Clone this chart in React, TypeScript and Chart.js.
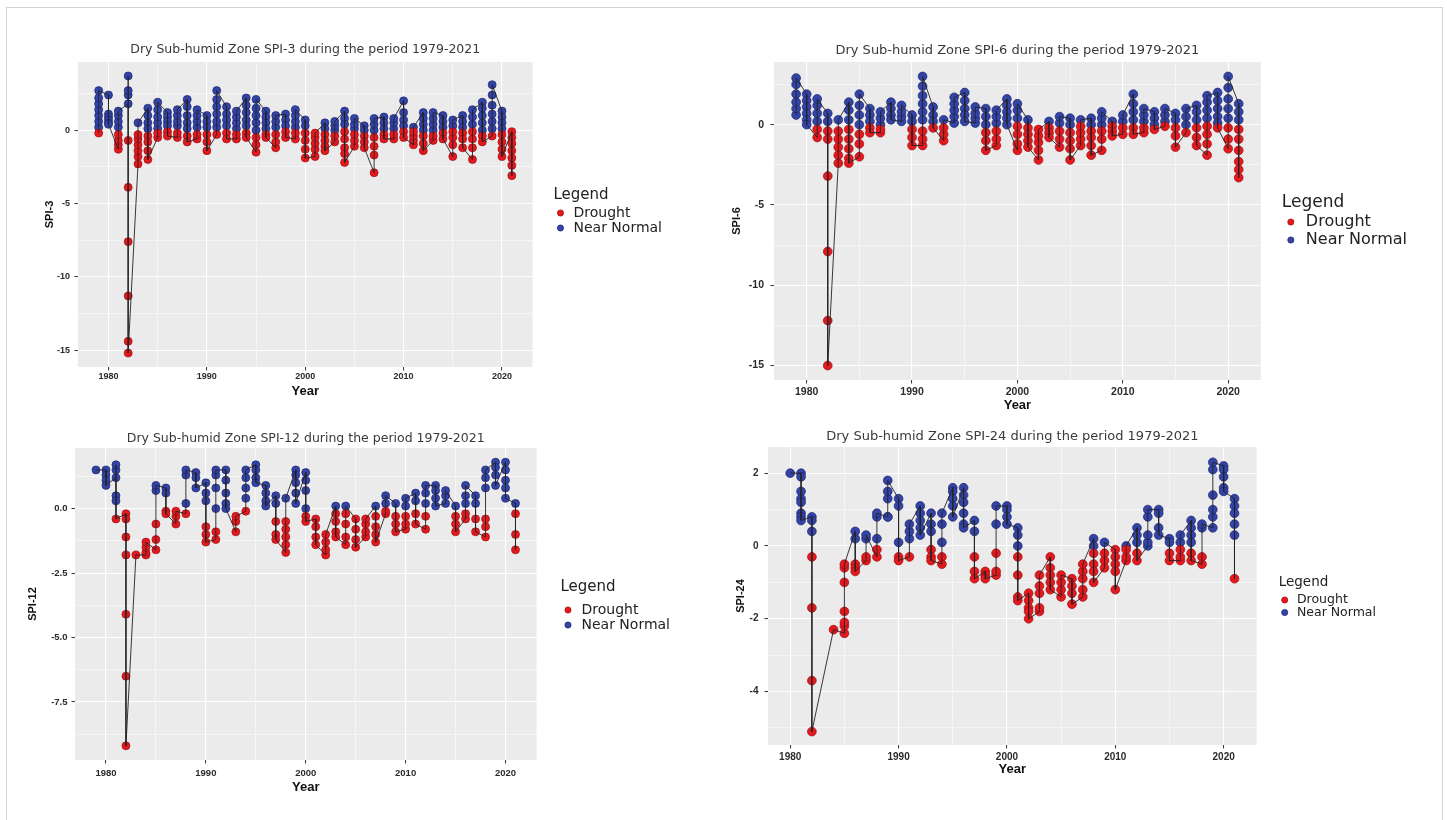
import React, { useEffect, useRef } from "react";
import { Chart, registerables } from "chart.js";

Chart.register(...registerables);

// ---------- data ----------
const YEARS = [
  1979, 1980, 1981, 1982, 1983, 1984, 1985, 1986, 1987, 1988, 1989, 1990, 1991, 1992, 1993,
  1994, 1995, 1996, 1997, 1998, 1999, 2000, 2001, 2002, 2003, 2004, 2005, 2006, 2007, 2008,
  2009, 2010, 2011, 2012, 2013, 2014, 2015, 2016, 2017, 2018, 2019, 2020, 2021,
];

const X_MAJOR = [1980, 1990, 2000, 2010, 2020];
const X_MINOR = [1985, 1995, 2005, 2015];
const X_LABELS = ["1980", "1990", "2000", "2010", "2020"];

const LEGEND_TITLE = "Legend";
const SERIES_NAMES = ["Drought", "Near Normal"];
const X_TITLE = "Year";

const SPI3_Y_MAJOR = [-15, -10, -5, 0];
const SPI3_Y_MINOR = [-12.5, -7.5, -2.5, 2.5];
const SPI3_Y_LABELS = ["-15", "-10", "-5", "0"];
const SPI6_Y_MAJOR = [-15, -10, -5, 0];
const SPI6_Y_MINOR = [-12.5, -7.5, -2.5, 2.5];
const SPI6_Y_LABELS = ["-15", "-10", "-5", "0"];
const SPI12_Y_MAJOR = [-7.5, -5, -2.5, 0];
const SPI12_Y_MINOR = [-8.75, -6.25, -3.75, -1.25, 1.25];
const SPI12_Y_LABELS = ["-7.5", "-5.0", "-2.5", "0.0"];
const SPI24_Y_MAJOR = [-4, -2, 0, 2];
const SPI24_Y_MINOR = [-5, -3, -1, 1];
const SPI24_Y_LABELS = ["-4", "-2", "0", "2"];

// monthly SPI values per year (in plotting order), one list per year of YEARS
const SPI3_VALUES = [
  [-0.2, 0.2, 0.6, 1.0, 1.4, 1.8, 2.2, 2.7],
  [2.4, 1.1, 0.9, 0.7, 0.5, 0.4],
  [-1.3, -1.0, -0.7, -0.3, 0.2, 0.6, 1.0, 1.3],
  [1.8, 2.4, 2.7, 3.7, -0.7, -3.9, -7.6, -11.3, -14.4, -15.2],
  [-2.3, -1.8, -1.4, -1.0, -0.6, -0.3, 0.5],
  [1.5, 1.0, 0.5, 0.1, -0.4, -0.8, -1.4, -2.0],
  [-0.5, -0.2, 0.1, 0.5, 0.9, 1.4, 1.9],
  [1.2, 0.9, 0.6, 0.3, -0.1, -0.4],
  [-0.5, -0.2, 0.3, 0.6, 1.0, 1.4],
  [2.1, 1.6, 1.0, 0.5, 0.1, -0.4, -0.8],
  [-0.6, -0.3, 0.2, 0.6, 1.0, 1.4],
  [1.0, 0.6, 0.2, -0.3, -0.8, -1.4],
  [-0.3, 0.2, 0.6, 1.1, 1.6, 2.1, 2.7],
  [1.6, 1.1, 0.7, 0.3, -0.2, -0.6],
  [-0.6, -0.3, 0.1, 0.5, 0.9, 1.3],
  [2.2, 1.7, 1.2, 0.7, 0.3, -0.2, -0.5],
  [-1.5, -1.0, -0.5, 0.0, 0.5, 1.0, 1.5, 2.1],
  [1.3, 0.9, 0.5, 0.1, -0.3, -0.5],
  [-1.2, -0.8, -0.3, 0.2, 0.6, 1.0],
  [1.1, 0.7, 0.3, -0.1, -0.5],
  [-0.6, -0.2, 0.2, 0.6, 1.0, 1.4],
  [0.7, 0.3, -0.2, -0.7, -1.3, -1.9],
  [-1.8, -1.3, -0.9, -0.5, -0.2],
  [0.5, 0.1, -0.3, -0.7, -1.1, -1.4],
  [-0.8, -0.4, 0.0, 0.3, 0.6],
  [1.3, 0.8, 0.4, -0.1, -0.6, -1.2, -1.6, -2.2],
  [-1.1, -0.7, -0.3, 0.1, 0.4, 0.8],
  [0.3, 0.0, -0.4, -0.8, -1.2],
  [-2.9, -1.7, -1.1, -0.5, 0.0, 0.4, 0.8],
  [0.9, 0.5, 0.1, -0.3, -0.6],
  [-0.6, -0.3, 0.1, 0.5, 0.8],
  [2.0, 1.2, 0.7, 0.3, -0.1, -0.5],
  [-1.0, -0.7, -0.4, -0.1, 0.2],
  [1.2, 0.8, 0.4, 0.0, -0.4, -0.9, -1.4],
  [-0.7, -0.4, 0.0, 0.4, 0.8, 1.2],
  [1.0, 0.6, 0.2, -0.2, -0.6],
  [-1.8, -1.0, -0.5, -0.1, 0.3, 0.7],
  [1.0, 0.6, 0.2, -0.2, -0.6, -1.2],
  [-2.0, -1.2, -0.6, -0.1, 0.4, 0.9, 1.4],
  [1.9, 1.5, 1.0, 0.5, 0.0, -0.4, -0.8],
  [-0.4, 0.1, 0.6, 1.1, 1.7, 2.4, 3.1],
  [1.3, 0.9, 0.5, 0.1, -0.3, -0.8, -1.3, -1.8],
  [-0.1, -0.5, -0.9, -1.4, -1.9, -2.4, -3.1],
];

const SPI6_VALUES = [
  [0.6, 1.0, 1.4, 1.9, 2.5, 2.9],
  [1.9, 1.5, 1.1, 0.7, 0.3, 0.0],
  [-0.8, -0.3, 0.2, 0.7, 1.2, 1.6],
  [0.7, 0.2, -0.4, -0.9, -3.2, -7.9, -12.2, -15.0],
  [-2.4, -1.9, -1.4, -0.9, -0.4, 0.3],
  [1.4, 0.9, 0.3, -0.3, -0.9, -1.5, -2.1, -2.4],
  [-2.0, -1.2, -0.6, 0.0, 0.6, 1.2, 1.9],
  [1.0, 0.6, 0.2, -0.2, -0.5],
  [-0.5, -0.3, 0.0, 0.4, 0.8],
  [1.4, 1.0, 0.6, 0.3],
  [0.2, 0.5, 0.8, 1.2],
  [0.6, 0.2, -0.3, -0.8, -1.3],
  [-1.3, -0.9, -0.4, 0.3, 0.8, 1.3, 1.8, 2.4, 3.0],
  [1.1, 0.6, 0.2, -0.2],
  [-1.0, -0.6, -0.2, 0.3],
  [0.1, 0.5, 0.9, 1.3, 1.7],
  [2.0, 1.5, 1.0, 0.6, 0.2],
  [0.1, 0.4, 0.7, 1.1],
  [1.0, 0.5, 0.0, -0.5, -1.0, -1.6],
  [-1.3, -0.9, -0.4, 0.1, 0.5, 0.9],
  [1.6, 1.2, 0.8, 0.4, 0.0],
  [-1.6, -1.2, -0.6, -0.1, 0.4, 0.9, 1.3],
  [0.3, -0.2, -0.6, -1.0, -1.4],
  [-2.2, -1.6, -1.1, -0.7, -0.3],
  [0.2, -0.2, -0.5, -0.8],
  [-1.4, -0.9, -0.4, 0.1, 0.5],
  [0.4, 0.0, -0.5, -1.0, -1.5, -2.2],
  [-1.3, -0.9, -0.5, -0.1, 0.3],
  [0.4, 0.0, -0.4, -0.8, -1.3, -1.9],
  [-1.6, -0.9, -0.4, 0.0, 0.4, 0.8],
  [0.2, -0.1, -0.4, -0.7],
  [-0.6, -0.2, 0.2, 0.6],
  [1.9, 1.3, 0.8, 0.3, -0.2, -0.6],
  [-0.5, -0.2, 0.2, 0.6, 1.0],
  [0.8, 0.4, 0.0, -0.3],
  [-0.1, 0.2, 0.6, 1.0],
  [0.7, 0.3, -0.2, -0.7, -1.4],
  [-0.5, 0.0, 0.5, 1.0],
  [1.2, 0.8, 0.3, -0.2, -0.8, -1.3],
  [-1.9, -1.2, -0.6, -0.1, 0.4, 0.9, 1.4, 1.8],
  [2.0, 1.5, 1.0, 0.5, 0.1, -0.2],
  [-1.5, -0.9, -0.2, 0.4, 1.0, 1.6, 2.3, 3.0],
  [1.3, 0.8, 0.3, -0.3, -0.9, -1.6, -2.3, -2.8, -3.3],
];

const SPI12_VALUES = [
  [1.5],
  [1.5, 1.3, 1.1, 0.9],
  [1.2, 1.5, 1.7, 0.5, 0.3, -0.4],
  [-0.2, -0.4, -1.1, -1.8, -4.1, -6.5, -9.2],
  [-1.8],
  [-1.8, -1.7, -1.5, -1.3],
  [-1.6, -1.2, -0.6, 0.7, 0.9],
  [0.8, 0.6, -0.1, -0.2],
  [-0.6, -0.3, -0.1],
  [-0.2, 0.2, 1.3, 1.5],
  [1.4, 1.2, 0.8],
  [1.0, 0.6, 0.3, -0.7, -1.0, -1.3],
  [-1.2, -0.9, 0.0, 0.8, 1.3, 1.5],
  [1.5, 1.1, 0.6, 0.2, 0.0],
  [-0.9, -0.5, -0.3],
  [-0.1, 0.4, 0.8, 1.2, 1.5],
  [1.7, 1.5, 1.2, 1.0],
  [0.9, 0.6, 0.3, 0.1],
  [0.5, 0.2, -0.5, -1.0, -1.2],
  [-1.7, -1.4, -1.1, -0.8, -0.5, 0.4],
  [1.5, 1.3, 1.0, 0.6, 0.2],
  [1.4, 1.1, 0.7, 0.0, -0.3, -0.5],
  [-0.4, -0.7, -1.1, -1.4],
  [-1.8, -1.6, -1.3, -1.0],
  [0.1, -0.2, -0.5, -0.9, -1.1],
  [-1.4, -1.1, -0.6, -0.2, 0.1],
  [-0.4, -0.8, -1.2, -1.5],
  [-1.1, -0.9, -0.6, -0.4],
  [0.1, -0.3, -0.7, -1.0, -1.3],
  [-0.2, -0.1, 0.2, 0.5],
  [0.2, -0.3, -0.6, -0.9],
  [-0.8, -0.6, -0.3, 0.1, 0.4],
  [0.6, 0.3, -0.2, -0.6],
  [-0.8, -0.3, 0.2, 0.6, 0.9],
  [0.9, 0.7, 0.4, 0.1],
  [0.2, 0.5, 0.7],
  [0.1, -0.3, -0.6, -0.9],
  [-0.4, -0.2, 0.2, 0.5, 0.9],
  [0.5, 0.2, -0.4, -0.9],
  [-1.1, -0.7, -0.4, 0.8, 1.2, 1.5],
  [1.8, 1.6, 1.3, 0.9],
  [1.8, 1.5, 1.1, 0.8, 0.4],
  [0.2, -0.2, -1.0, -1.6],
];

const SPI24_VALUES = [
  [],
  [2.0],
  [2.0, 1.9, 1.5, 1.3, 1.2, 0.9, 0.8, 0.7],
  [0.8, 0.7, 0.4, -0.3, -1.7, -3.7, -5.1],
  [],
  [-2.3],
  [-2.4, -2.2, -2.1, -1.8, -1.0, -0.6, -0.5],
  [0.4, 0.2, -0.5, -0.6, -0.7],
  [-0.4, -0.3, 0.2, 0.3],
  [-0.3, -0.1, 0.2, 0.8, 0.9],
  [0.8, 0.8, 1.3, 1.5, 1.8],
  [1.3, 1.1, 0.1, -0.3, -0.4],
  [-0.3, 0.2, 0.4, 0.6],
  [1.1, 0.9, 0.7, 0.5, 0.3],
  [0.9, 0.6, 0.4, -0.1, -0.3, -0.4],
  [-0.5, -0.3, 0.1, 0.6, 0.9],
  [1.6, 1.5, 1.3, 1.1, 0.8],
  [1.6, 1.4, 1.2, 0.9, 0.6, 0.5],
  [0.7, 0.4, -0.3, -0.7, -0.9],
  [-0.7, -0.8, -0.9],
  [-0.8, -0.7, -0.2, 0.6, 1.1],
  [1.1, 1.0, 0.8, 0.6],
  [0.5, 0.3, 0.0, -0.3, -0.8, -1.4, -1.5],
  [-1.3, -1.5, -1.7, -1.8, -2.0],
  [-1.8, -1.7, -1.3, -1.1, -0.8],
  [-0.3, -0.6, -0.8, -1.0, -1.2],
  [-1.4, -1.2, -1.0, -0.8],
  [-0.9, -1.1, -1.3, -1.6],
  [-1.4, -1.2, -0.9, -0.7, -0.5],
  [0.2, 0.0, -0.2, -0.5, -0.7, -1.0],
  [-0.6, -0.4, -0.2, 0.1],
  [-0.1, -0.3, -0.5, -0.7, -1.2],
  [-0.4, -0.3, -0.1, 0.0],
  [0.5, 0.3, 0.1, -0.2, -0.4],
  [0.0, 0.1, 0.3, 0.8, 1.0],
  [1.0, 0.9, 0.5, 0.3],
  [0.2, 0.1, -0.2, -0.4],
  [-0.4, -0.3, -0.1, 0.1, 0.3],
  [0.7, 0.5, 0.3, 0.1, -0.2, -0.4],
  [-0.5, -0.3, 0.5, 0.6],
  [0.5, 0.8, 1.0, 1.4, 2.1, 2.3],
  [2.2, 2.1, 1.9, 1.6, 1.5],
  [1.3, 1.1, 0.9, 0.6, 0.3, -0.9],
];

// ---------- styles ----------
const SANS = "'Liberation Sans', Arial, sans-serif";
const DEJAVU = "'DejaVu Sans', sans-serif";
const RED = "#E3191E";
const RED_EDGE = "#9E0F12";
const BLUE = "#3344A6";
const BLUE_EDGE = "#1B2470";
const LINE_COLOR = "rgba(35,35,35,0.9)";
const PANEL_BG = "#EBEBEB";
const TICK_LEN = 3.5;
const Y_TITLE_SIZE = 11;
const X_TITLE_SIZE = 13;

type PanelCfg = {
  title: string;
  yTitle: string;
  values: number[][];
  yMajor: number[];
  yMinor: number[];
  yLabels: string[];
  L: number; R: number; T: number; B: number;
  xMin: number; xMax: number; yMin: number; yMax: number;
  titleY: number; titleSize: number;
  yTitleX: number; xTickY: number; xTitleY: number;
  tickSize: number; yTickPad: number;
  legendX: number; legendTitleY: number; legendItemY: number;
  legendSize: number; legendPad: number; legendBox: number;
  pointR: number;
};

const PANELS: PanelCfg[] = [
  {
    title: "Dry Sub-humid Zone SPI-3 during the period 1979-2021", yTitle: "SPI-3",
    values: SPI3_VALUES, yMajor: SPI3_Y_MAJOR, yMinor: SPI3_Y_MINOR, yLabels: SPI3_Y_LABELS,
    L: 78, R: 532, T: 62, B: 367, xMin: 1976.9, xMax: 2023.1, yMin: -16.15, yMax: 4.65,
    titleY: 50, titleSize: 12.5, yTitleX: 50, xTickY: 377, xTitleY: 391,
    tickSize: 9, yTickPad: 4.5,
    legendX: 553, legendTitleY: 195, legendItemY: 213, legendSize: 14, legendPad: 1, legendBox: 12,
    pointR: 4,
  },
  {
    title: "Dry Sub-humid Zone SPI-6 during the period 1979-2021", yTitle: "SPI-6",
    values: SPI6_VALUES, yMajor: SPI6_Y_MAJOR, yMinor: SPI6_Y_MINOR, yLabels: SPI6_Y_LABELS,
    L: 774, R: 1261, T: 62, B: 380, xMin: 1976.9, xMax: 2023.1, yMin: -15.9, yMax: 3.9,
    titleY: 51, titleSize: 13, yTitleX: 737, xTickY: 392, xTitleY: 405,
    tickSize: 10.5, yTickPad: 6.5,
    legendX: 1282, legendTitleY: 203, legendItemY: 222, legendSize: 16, legendPad: 2, legendBox: 14,
    pointR: 4.4,
  },
  {
    title: "Dry Sub-humid Zone SPI-12 during the period 1979-2021", yTitle: "SPI-12",
    values: SPI12_VALUES, yMajor: SPI12_Y_MAJOR, yMinor: SPI12_Y_MINOR, yLabels: SPI12_Y_LABELS,
    L: 75, R: 536, T: 448, B: 760, xMin: 1976.9, xMax: 2023.1, yMin: -9.75, yMax: 2.35,
    titleY: 439, titleSize: 12.5, yTitleX: 33, xTickY: 773, xTitleY: 787,
    tickSize: 9.5, yTickPad: 4,
    legendX: 560, legendTitleY: 587, legendItemY: 610, legendSize: 14, legendPad: 1, legendBox: 13,
    pointR: 4,
  },
  {
    title: "Dry Sub-humid Zone SPI-24 during the period 1979-2021", yTitle: "SPI-24",
    values: SPI24_VALUES, yMajor: SPI24_Y_MAJOR, yMinor: SPI24_Y_MINOR, yLabels: SPI24_Y_LABELS,
    L: 768, R: 1257, T: 447, B: 745, xMin: 1977.95, xMax: 2023.05, yMin: -5.47, yMax: 2.72,
    titleY: 437, titleSize: 13, yTitleX: 741, xTickY: 757, xTitleY: 769,
    tickSize: 10, yTickPad: 6,
    legendX: 1279, legendTitleY: 582, legendItemY: 600, legendSize: 12.5, legendPad: 0, legendBox: 12,
    pointR: 4.4,
  },
];

function geometry(p: PanelCfg) {
  const left = Math.round(p.yTitleX - 8);
  const top = Math.round(p.titleY - 10);
  const titleLh = p.titleSize * 1.2;
  const titlePadTop = p.titleY - top - titleLh / 2;
  const titlePadBottom = p.T - top - titlePadTop - titleLh;
  const yTitleLh = Y_TITLE_SIZE * 1.2;
  const yTitlePadTop = p.yTitleX - left - yTitleLh / 2;
  const yWidth = p.L - left;
  const xTitleLh = X_TITLE_SIZE * 1.2;
  const bottom = Math.round(p.xTitleY + xTitleLh / 2 + 2);
  const xTitlePadBottom = bottom - p.xTitleY - xTitleLh / 2;
  const xHeight = bottom - p.B;
  const xTickPad = p.xTickY - p.B - TICK_LEN - (p.tickSize * 1.2) / 2;
  const gap = p.legendX - p.R;
  const ltSize = p.legendSize + 1;
  const ltLh = ltSize * 1.2;
  const ltPadTop = p.legendTitleY - p.T - ltSize / 2;
  const ltPadBottom = p.legendItemY - p.legendSize / 2 - p.legendPad - p.T - ltLh - ltPadTop;
  const legendGuess = p.legendPad + p.legendBox + p.legendSize / 2 + p.legendSize * 6.33 + 10;
  const width = Math.round(p.R - left + gap + legendGuess);
  const height = bottom - top;
  return {
    left, top, width, height, titlePadTop, titlePadBottom, yTitlePadTop, yWidth,
    xTitlePadBottom, xHeight, xTickPad, gap, ltSize, ltPadTop, ltPadBottom,
  };
}

type Geom = ReturnType<typeof geometry>;

const panelBg = {
  id: "panelBg",
  beforeDraw(chart: any) {
    const { ctx, chartArea } = chart;
    if (!chartArea) return;
    ctx.save();
    ctx.fillStyle = PANEL_BG;
    ctx.fillRect(chartArea.left, chartArea.top, chartArea.width, chartArea.height);
    ctx.restore();
  },
};

function makeConfig(p: PanelCfg, g: Geom): any {
  const points: { x: number; y: number }[] = [];
  p.values.forEach((arr, i) => arr.forEach((v) => points.push({ x: YEARS[i], y: v })));
  const drought = points.filter((pt) => pt.y < 0);
  const normal = points.filter((pt) => pt.y >= 0);

  const tickFont = { family: SANS, size: p.tickSize, weight: "bold" };
  const gridWidth = (major: number[]) => (ctx: any) =>
    major.includes(ctx.tick ? ctx.tick.value : NaN) ? 1.1 : 0.5;
  const tickColor = (major: number[]) => (ctx: any) =>
    major.includes(ctx.tick ? ctx.tick.value : NaN) ? "#333333" : "rgba(0,0,0,0)";

  return {
    type: "scatter",
    data: {
      datasets: [
        {
          label: "SPI",
          data: points,
          showLine: true,
          pointRadius: 0,
          pointHoverRadius: 0,
          borderColor: LINE_COLOR,
          borderWidth: 1,
          order: 0,
        },
        {
          label: SERIES_NAMES[0],
          data: drought,
          pointRadius: p.pointR,
          backgroundColor: RED,
          borderColor: RED_EDGE,
          borderWidth: 0.7,
          order: 1,
        },
        {
          label: SERIES_NAMES[1],
          data: normal,
          pointRadius: p.pointR,
          backgroundColor: BLUE,
          borderColor: BLUE_EDGE,
          borderWidth: 0.7,
          order: 2,
        },
      ],
    },
    options: {
      responsive: false,
      maintainAspectRatio: false,
      animation: false,
      events: [],
      layout: { padding: 0 },
      plugins: {
        tooltip: { enabled: false },
        title: {
          display: true,
          text: p.title,
          fullSize: false,
          color: "#3a3a3a",
          font: { family: DEJAVU, size: p.titleSize, weight: "normal" },
          padding: { top: g.titlePadTop, bottom: g.titlePadBottom },
        },
        legend: {
          display: true,
          position: "right",
          align: "start",
          fullSize: false,
          maxWidth: 600,
          title: {
            display: true,
            text: LEGEND_TITLE,
            position: "start",
            color: "#222222",
            font: { family: DEJAVU, size: g.ltSize },
            padding: { top: g.ltPadTop, bottom: g.ltPadBottom },
          },
          labels: {
            usePointStyle: true,
            pointStyle: "circle",
            boxWidth: p.legendBox,
            boxHeight: 4.4,
            padding: p.legendPad,
            color: "#222222",
            font: { family: DEJAVU, size: p.legendSize },
            filter: (item: any) => item.datasetIndex !== 0,
          },
        },
      },
      scales: {
        x: {
          type: "linear",
          position: "bottom",
          min: p.xMin,
          max: p.xMax,
          bounds: "data",
          afterBuildTicks: (scale: any) => {
            scale.ticks = [...X_MAJOR, ...X_MINOR]
              .filter((v) => v >= p.xMin && v <= p.xMax)
              .sort((a, b) => a - b)
              .map((v) => ({ value: v }));
          },
          afterFit: (scale: any) => {
            scale.height = g.xHeight;
          },
          ticks: {
            autoSkip: false,
            maxRotation: 0,
            minRotation: 0,
            padding: g.xTickPad,
            color: "#2b2b2b",
            font: tickFont,
            callback: (v: any) => {
              const i = X_MAJOR.indexOf(Number(v));
              return i >= 0 ? X_LABELS[i] : "";
            },
          },
          grid: {
            color: "#ffffff",
            lineWidth: gridWidth(X_MAJOR),
            tickColor: tickColor(X_MAJOR),
            tickLength: TICK_LEN,
            tickWidth: 1,
          },
          border: { display: false },
          title: {
            display: true,
            text: X_TITLE,
            color: "#111111",
            font: { family: SANS, size: X_TITLE_SIZE, weight: "bold" },
            padding: { top: 0, bottom: g.xTitlePadBottom },
          },
        },
        y: {
          type: "linear",
          position: "left",
          min: p.yMin,
          max: p.yMax,
          bounds: "data",
          afterBuildTicks: (scale: any) => {
            scale.ticks = [...p.yMajor, ...p.yMinor]
              .filter((v) => v >= p.yMin && v <= p.yMax)
              .sort((a, b) => a - b)
              .map((v) => ({ value: v }));
          },
          afterFit: (scale: any) => {
            scale.width = g.yWidth;
          },
          ticks: {
            autoSkip: false,
            padding: p.yTickPad,
            color: "#2b2b2b",
            font: tickFont,
            callback: (v: any) => {
              const i = p.yMajor.indexOf(Number(v));
              return i >= 0 ? p.yLabels[i] : "";
            },
          },
          grid: {
            color: "#ffffff",
            lineWidth: gridWidth(p.yMajor),
            tickColor: tickColor(p.yMajor),
            tickLength: TICK_LEN,
            tickWidth: 1,
          },
          border: { display: false },
          title: {
            display: true,
            text: p.yTitle,
            color: "#111111",
            font: { family: SANS, size: Y_TITLE_SIZE, weight: "bold" },
            padding: { top: g.yTitlePadTop, bottom: 0 },
          },
        },
        gap: {
          type: "linear",
          position: "right",
          display: true,
          afterFit: (scale: any) => {
            scale.width = g.gap;
          },
          ticks: { display: false },
          grid: { display: false, drawTicks: false },
          border: { display: false },
        },
      },
    },
    plugins: [panelBg],
  };
}

function PanelChart({ cfg }: { cfg: PanelCfg }) {
  const ref = useRef<HTMLCanvasElement | null>(null);
  const g = geometry(cfg);
  useEffect(() => {
    const canvas = ref.current;
    if (!canvas) return;
    let width = g.width;
    let chart: Chart | null = null;
    const targetRight = cfg.R - g.left; // chart-area right edge in canvas coordinates
    for (let attempt = 0; attempt < 4; attempt++) {
      canvas.width = width;
      canvas.height = g.height;
      chart = new Chart(canvas, makeConfig(cfg, g));
      const delta = targetRight - chart.chartArea.right;
      if (Math.abs(delta) < 0.6 || attempt === 3) break;
      chart.destroy();
      width = Math.round(width + delta);
    }
    return () => {
      if (chart) chart.destroy();
    };
  }, []);
  return (
    <canvas
      ref={ref}
      width={g.width}
      height={g.height}
      style={{ position: "absolute", left: g.left, top: g.top }}
    />
  );
}

export default function App() {
  return (
    <div
      style={{
        position: "absolute",
        left: 0,
        top: 0,
        width: 1447,
        height: 820,
        background: "#ffffff",
        overflow: "hidden",
      }}
    >
      <div
        style={{
          position: "absolute",
          left: 6,
          top: 7,
          width: 1435,
          height: 840,
          border: "1px solid #d2d2d2",
        }}
      />
      {PANELS.map((p) => (
        <PanelChart key={p.yTitle} cfg={p} />
      ))}
    </div>
  );
}
